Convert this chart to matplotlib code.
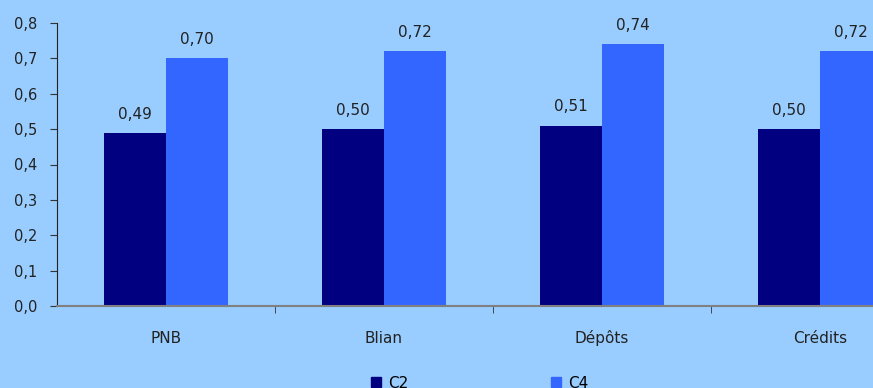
import numpy as np
import matplotlib
matplotlib.use("Agg")
import matplotlib.pyplot as plt
from matplotlib.patches import Patch

categories = ["PNB", "Blian", "Dépôts", "Crédits"]
c2_values = [0.49, 0.50, 0.51, 0.50]
c4_values = [0.70, 0.72, 0.74, 0.72]
series_names = ["C2", "C4"]

bg = "#99ccff"
col_c2 = "#000080"
col_c4 = "#3366ff"

plt.rcParams["font.family"] = "DejaVu Sans"
plt.rcParams["font.size"] = 11

fig = plt.figure(figsize=(8.73, 3.88), dpi=100, facecolor=bg)
ax = fig.add_axes([57 / 873, 82 / 388, 872 / 873, 283 / 388])
ax.set_facecolor(bg)

x = np.arange(len(categories))
width = 0.285
b1 = ax.bar(x - width / 2, c2_values, width, color=col_c2, label=series_names[0])
b2 = ax.bar(x + width / 2, c4_values, width, color=col_c4, label=series_names[1])

for bars, vals in [(b1, c2_values), (b2, c4_values)]:
    for b, v in zip(bars, vals):
        ax.annotate(("%.2f" % v).replace(".", ","),
                    (b.get_x() + b.get_width() / 2, v),
                    xytext=(0, 8), textcoords="offset points",
                    ha="center", va="bottom", color="#222222", fontsize=11)

ax.set_xlim(-0.5, 3.5)
ax.set_ylim(0, 0.8)
yt = np.arange(0, 0.81, 0.1)
ax.set_yticks(yt)
ax.set_yticklabels([("%.1f" % t).replace(".", ",") for t in yt], color="#222222", fontsize=10.5)
ax.set_xticks(x)
ax.set_xticklabels(categories, color="#222222", va="baseline")
ax.set_xticks(np.arange(0.5, 3.6, 1), minor=True)
ax.tick_params(axis="x", which="major", length=0, pad=26.5)
ax.tick_params(axis="x", which="minor", length=5, direction="out", color="#333333")
ax.tick_params(axis="y", length=5, direction="out", color="#333333", pad=9)

for s in ["top", "right"]:
    ax.spines[s].set_visible(False)
ax.spines["left"].set_color("#222222")
ax.spines["bottom"].set_color("#808080")
ax.spines["bottom"].set_linewidth(1.5)

# legend sits at the bottom edge, partly cut like the original
handles = [Patch(color=col_c2), Patch(color=col_c4)]
fig.legend(handles, series_names, loc="center left",
           bbox_to_anchor=(371 / 873, 1 - 383 / 388), ncol=2, frameon=False,
           handlelength=0.65, handleheight=0.65, handletextpad=0.5,
           columnspacing=9.3, borderpad=0, borderaxespad=0)

fig.savefig("out.png", dpi=100, facecolor=bg)
